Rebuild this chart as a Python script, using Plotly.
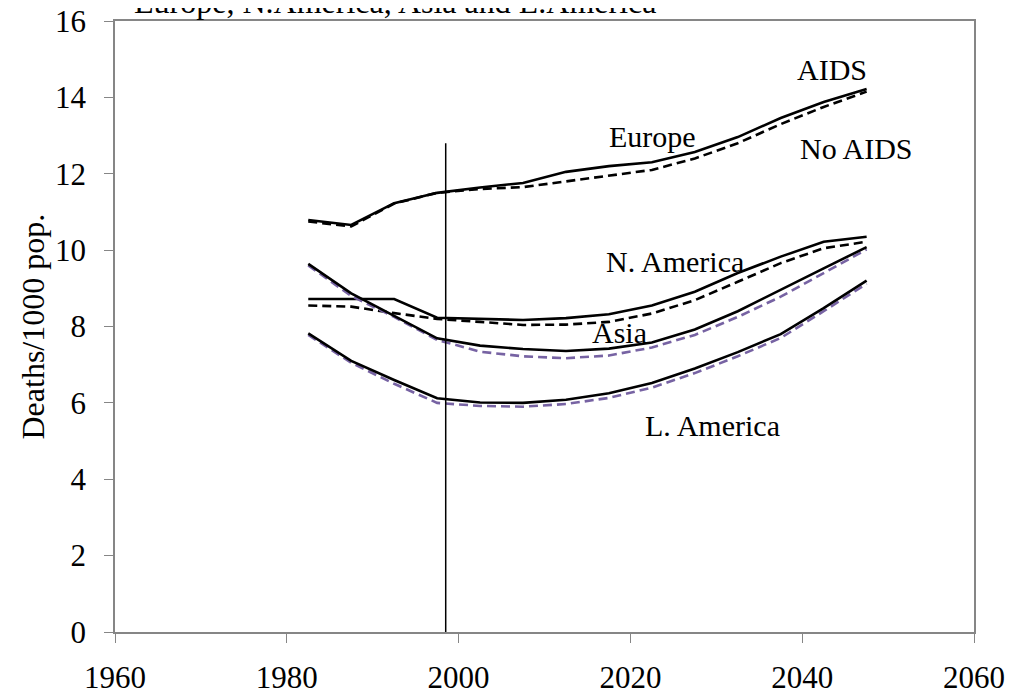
import plotly.graph_objects as go

years = [1982.5, 1987.5, 1992.5, 1997.5, 2002.5, 2007.5, 2012.5, 2017.5,
         2022.5, 2027.5, 2032.5, 2037.5, 2042.5, 2047.5]

europe_aids = [10.79, 10.66, 11.23, 11.50, 11.64, 11.76, 12.05, 12.20, 12.30, 12.57, 12.96, 13.46, 13.88, 14.22]
europe_noaids = [10.75, 10.62, 11.22, 11.50, 11.60, 11.65, 11.80, 11.95, 12.10, 12.40, 12.80, 13.30, 13.75, 14.15]
namerica_aids = [8.72, 8.72, 8.72, 8.23, 8.20, 8.17, 8.22, 8.32, 8.55, 8.91, 9.40, 9.83, 10.22, 10.35]
namerica_noaids = [8.55, 8.52, 8.35, 8.20, 8.12, 8.04, 8.05, 8.12, 8.34, 8.69, 9.17, 9.66, 10.05, 10.22]
asia_aids = [9.64, 8.87, 8.28, 7.69, 7.50, 7.41, 7.36, 7.42, 7.58, 7.92, 8.40, 8.95, 9.52, 10.08]
asia_noaids = [9.60, 8.80, 8.25, 7.65, 7.34, 7.22, 7.17, 7.24, 7.45, 7.78, 8.25, 8.78, 9.40, 10.02]
lamerica_aids = [7.82, 7.10, 6.60, 6.12, 6.01, 6.00, 6.08, 6.25, 6.52, 6.90, 7.33, 7.80, 8.48, 9.20]
lamerica_noaids = [7.78, 7.05, 6.50, 6.00, 5.92, 5.90, 5.97, 6.13, 6.40, 6.78, 7.22, 7.70, 8.40, 9.12]

divider_year = [1998.5, 1998.5]
divider_values = [0, 12.8]

x_ticks = [1960, 1980, 2000, 2020, 2040, 2060]
y_ticks = [0, 2, 4, 6, 8, 10, 12, 14, 16]

labels = ["AIDS", "Europe", "No AIDS", "N. America", "Asia", "L. America"]
label_x = [2043.5, 2022.6, 2046.3, 2025.2, 2018.7, 2029.6]
label_y = [14.72, 12.98, 12.65, 9.71, 7.83, 5.42]

title_text = "Europe, N.America, Asia and L.America"
y_title = "Deaths/1000 pop."

FONT = "Liberation Serif, Times New Roman, serif"
BLACK = "#000000"
PURPLE = "#7763a3"
AX = "#868686"

fig = go.Figure()

series = [
    (europe_aids, BLACK, "solid"),
    (europe_noaids, BLACK, "9px,5px"),
    (namerica_aids, BLACK, "solid"),
    (namerica_noaids, BLACK, "9px,5px"),
    (asia_noaids, PURPLE, "9px,5px"),
    (asia_aids, BLACK, "solid"),
    (lamerica_noaids, PURPLE, "9px,5px"),
    (lamerica_aids, BLACK, "solid"),
]
for vals, col, dash in series:
    fig.add_trace(go.Scatter(x=years, y=vals, mode="lines",
                             line=dict(color=col, width=2.6, dash=dash),
                             showlegend=False, hoverinfo="skip"))

fig.add_trace(go.Scatter(x=divider_year, y=divider_values, mode="lines",
                         line=dict(color=BLACK, width=1.5),
                         showlegend=False, hoverinfo="skip"))

for t, xx, yy in zip(labels, label_x, label_y):
    fig.add_annotation(x=xx, y=yy, text=t, showarrow=False,
                       font=dict(family=FONT, size=30, color=BLACK),
                       xanchor="center", yanchor="middle")

fig.add_annotation(xref="paper", yref="paper", x=17 / 859, y=0.9986,
                   text=title_text, showarrow=False, xanchor="left", yanchor="bottom",
                   font=dict(family=FONT, size=32, color=BLACK))

fig.add_annotation(xref="paper", yref="paper", x=-83 / 859, y=0.5,
                   text=y_title, showarrow=False, textangle=-90,
                   xanchor="center", yanchor="middle",
                   font=dict(family=FONT, size=32, color=BLACK))

fig.update_layout(
    width=1006, height=690,
    margin=dict(l=107, r=40, t=13, b=66, autoexpand=False),
    plot_bgcolor="white", paper_bgcolor="white",
    font=dict(family=FONT, size=30, color=BLACK),
)
fig.update_xaxes(range=[1960, 2060], tickvals=x_ticks, ticktext=[str(v) for v in x_ticks],
                 showgrid=False, zeroline=False, showline=True, linecolor=AX, linewidth=1.5,
                 mirror=True, ticks="outside", ticklen=9, tickcolor=AX, tickwidth=1,
                 automargin=False, ticklabelstandoff=8, ticklabeloverflow="allow",
                 tickfont=dict(family=FONT, size=31, color=BLACK))
fig.update_yaxes(range=[0, 16], tickvals=y_ticks, ticktext=[str(v) for v in y_ticks],
                 showgrid=False, zeroline=False, showline=True, linecolor=AX, linewidth=1.5,
                 mirror=True, ticks="outside", ticklen=9, tickcolor=AX, tickwidth=1,
                 automargin=False, ticklabelstandoff=12, ticklabeloverflow="allow",
                 tickfont=dict(family=FONT, size=31, color=BLACK))

fig.write_html("out.html")
